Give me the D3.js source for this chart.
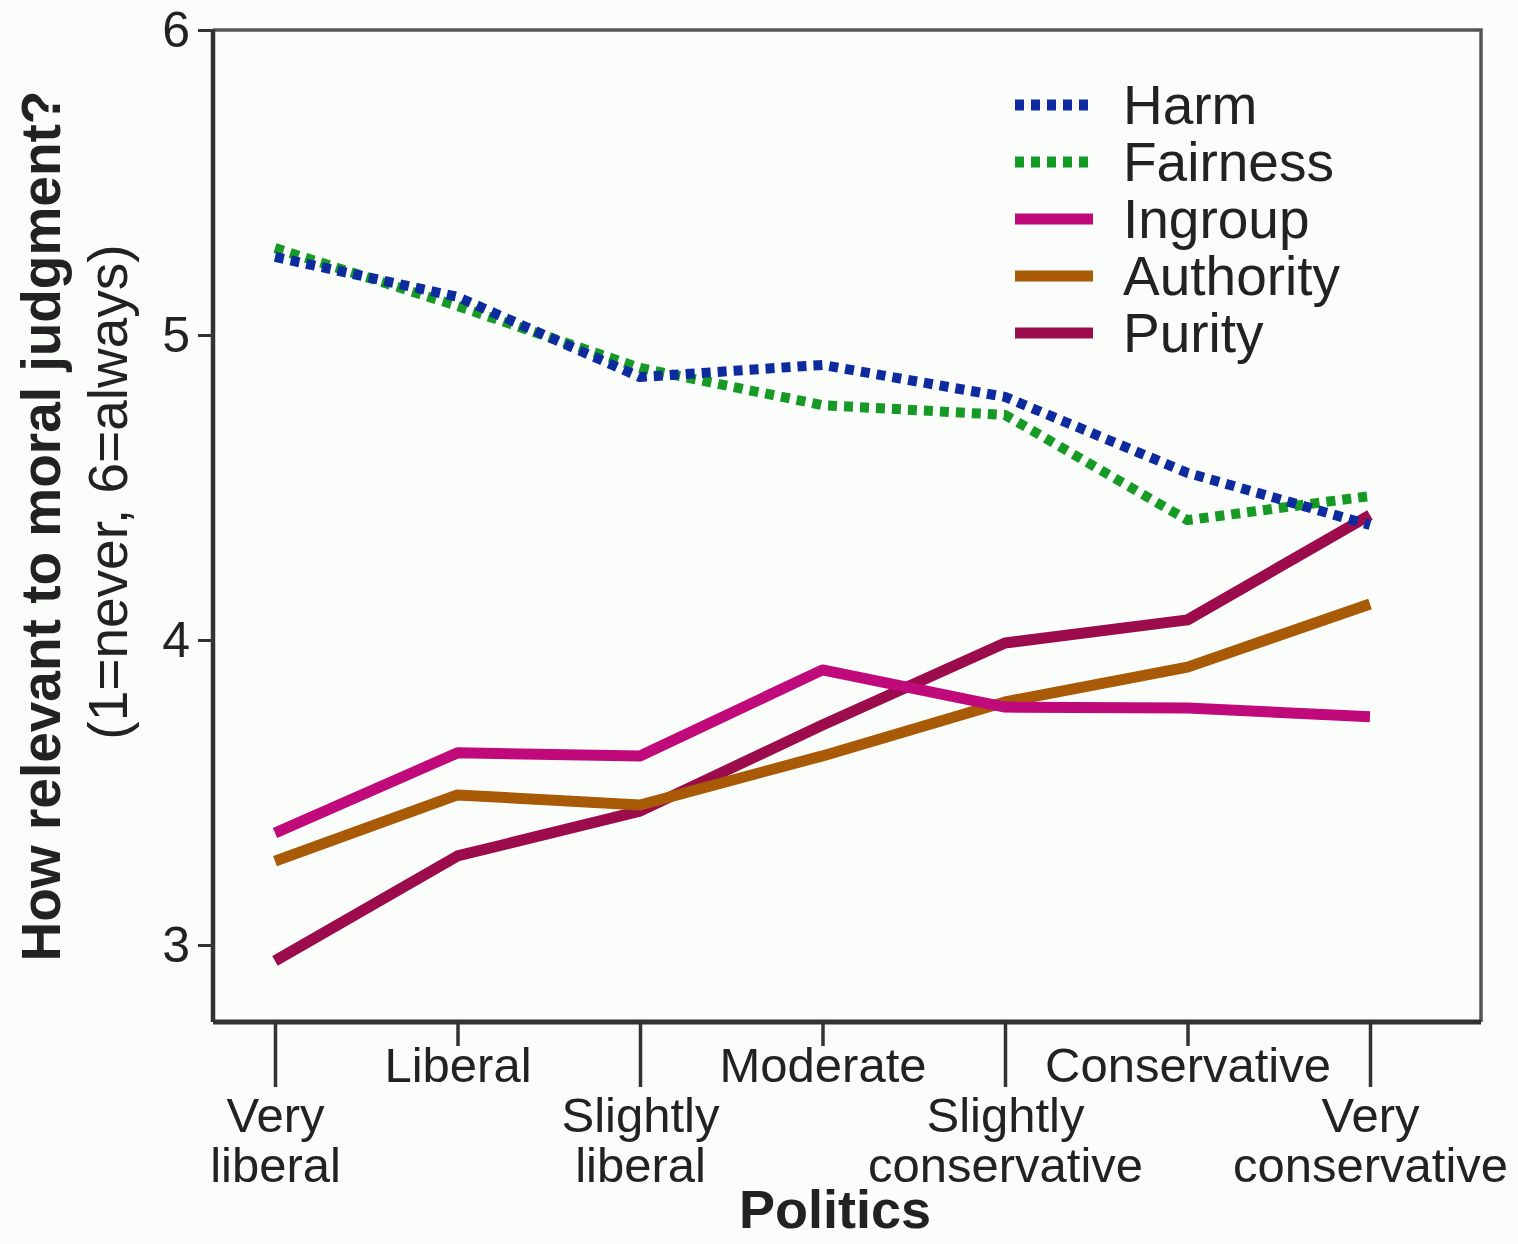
<!DOCTYPE html>
<html>
<head>
<meta charset="utf-8">
<script src="https://cdn.jsdelivr.net/npm/d3@7"></script>
<style>
  body { margin: 0; background: #fbfdfb; }
  svg { display: block; font-family: 'Liberation Sans', Arial, Helvetica, sans-serif; }
</style>
</head>
<body>
<div id="chart"></div>
<script>
// categories along the x axis (two-line labels split with |)
const categories = ['Very|liberal', 'Liberal', 'Slightly|liberal', 'Moderate',
  'Slightly|conservative', 'Conservative', 'Very|conservative']

// which ticks hang low (long tick, label below) vs high
const lowTicks = [true, false, true, false, true, false, true]

const yTicks = [3, 4, 5, 6]

const harm = [5.256, 5.125, 4.862, 4.902, 4.797, 4.548, 4.377]
const fairness = [5.285, 5.095, 4.892, 4.770, 4.738, 4.393, 4.472]
const ingroup = [3.367, 3.630, 3.620, 3.902, 3.780, 3.777, 3.748]
const authority = [3.275, 3.492, 3.459, 3.620, 3.797, 3.911, 4.118]
const purity = [2.948, 3.292, 3.439, 3.721, 3.990, 4.066, 4.410]

const seriesNames = ['Harm', 'Fairness', 'Ingroup', 'Authority', 'Purity']
const seriesValues = [harm, fairness, ingroup, authority, purity]
const seriesColors = ['#0d2a9e', '#179a25', '#c00a7c', '#a85a06', '#9c0c4c']
const seriesDotted = [true, true, false, false, false]

const W = 1518
const H = 1244
const frame = { left: 213, right: 1481, top: 30, bottom: 1022 }

const svg = d3
  .select('#chart')
  .append('svg')
  .attr('width', W)
  .attr('height', H)

svg.append('rect')
  .attr('width', W)
  .attr('height', H)
  .attr('fill', '#fbfdfb')

const x = d3.scalePoint()
  .domain(categories)
  .range([275, 1370])

// 3 -> 945, 6 -> 30
const y = d3.scaleLinear()
  .domain([3, 6])
  .range([945, 30])

// plot frame: top and right borders
svg.append('path')
  .attr('d', `M${frame.left},${frame.top}H${frame.right}V${frame.bottom}`)
  .attr('fill', 'none')
  .attr('stroke', '#555')
  .attr('stroke-width', 3.5)

// lines, drawn bottom to top
const line = d3.line()
  .x((d, i) => x(categories[i]))
  .y(d => y(d))

const drawOrder = [4, 3, 2, 1, 0]
drawOrder.forEach(k => {
  svg.append('path')
    .datum(seriesValues[k])
    .attr('d', line)
    .attr('fill', 'none')
    .attr('stroke', seriesColors[k])
    .attr('stroke-width', seriesDotted[k] ? 10 : 11)
    .attr('stroke-linejoin', 'round')
    .attr('stroke-dasharray', seriesDotted[k] ? '9,7' : null)
})

// y axis
const yAxis = d3.axisLeft(y)
  .tickValues(yTicks)
  .tickSize(15)
  .tickPadding(8)
  .tickFormat(d3.format('d'))

const yG = svg.append('g')
  .attr('transform', `translate(${frame.left},0)`)
  .call(yAxis)

yG.select('.domain')
  .attr('d', `M0,${frame.top}V${frame.bottom}`)
  .attr('stroke', '#333')
  .attr('stroke-width', 4.5)
yG.selectAll('.tick line').attr('stroke', '#333').attr('stroke-width', 3)
yG.selectAll('.tick text')
  .attr('font-size', 50)
  .attr('fill', '#222')
  .attr('font-family', "'Liberation Sans', Arial, sans-serif")

// x axis
const xAxis = d3.axisBottom(x).tickSize(0).tickFormat('')

const xG = svg.append('g')
  .attr('transform', `translate(0,${frame.bottom})`)
  .call(xAxis)

xG.select('.domain')
  .attr('d', `M${frame.left},0H${frame.right}`)
  .attr('stroke', '#333')
  .attr('stroke-width', 5)

xG.selectAll('.tick').each(function(d, i) {
  const g = d3.select(this)
  const low = lowTicks[i]
  g.append('line')
    .attr('y1', 0)
    .attr('y2', low ? 65 : 24)
    .attr('stroke', '#333')
    .attr('stroke-width', 3.5)
  const parts = d.split('|')
  const t = g.append('text')
    .attr('text-anchor', 'middle')
    .attr('font-size', 49)
    .attr('fill', '#222')
    .attr('font-family', "'Liberation Sans', Arial, sans-serif")
  parts.forEach((p, j) => {
    t.append('tspan')
      .attr('x', 0)
      .attr('y', (low ? 110 : 60) + j * 50)
      .text(p)
  })
})

// axis titles
svg.append('text')
  .attr('x', 835)
  .attr('y', 1228)
  .attr('text-anchor', 'middle')
  .attr('font-size', 54)
  .attr('font-weight', 'bold')
  .attr('fill', '#222')
  .text('Politics')

svg.append('text')
  .attr('transform', 'translate(60,526) rotate(-90)')
  .attr('text-anchor', 'middle')
  .attr('font-size', 55)
  .attr('font-weight', 'bold')
  .attr('fill', '#222')
  .text('How relevant to moral judgment?')

svg.append('text')
  .attr('transform', 'translate(127,492) rotate(-90)')
  .attr('text-anchor', 'middle')
  .attr('font-size', 55)
  .attr('fill', '#222')
  .text('(1=never, 6=always)')

// legend
const legend = svg.append('g').attr('transform', 'translate(1015,105)')
seriesNames.forEach((name, k) => {
  const row = legend.append('g').attr('transform', `translate(0,${k * 57})`)
  row.append('line')
    .attr('x1', 0)
    .attr('x2', 78)
    .attr('stroke', seriesColors[k])
    .attr('stroke-width', 11)
    .attr('stroke-dasharray', seriesDotted[k] ? '9,7' : null)
  row.append('text')
    .attr('x', 108)
    .attr('y', 19)
    .attr('font-size', 55)
    .attr('fill', '#222')
    .text(name)
})
</script>
</body>
</html>
